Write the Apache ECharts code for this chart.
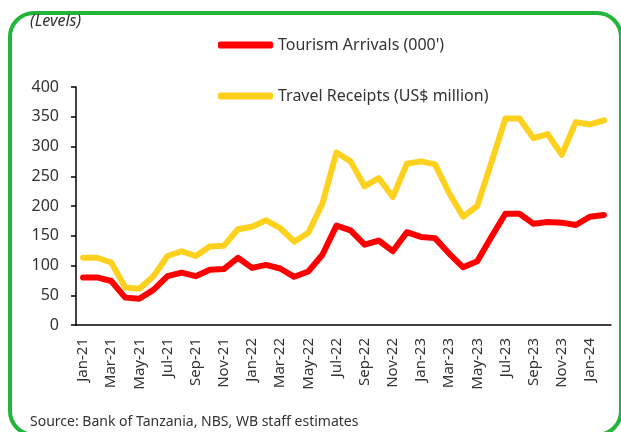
<!DOCTYPE html>
<html>
<head>
<meta charset="utf-8">
<script src="https://cdn.jsdelivr.net/npm/echarts@6/dist/echarts.min.js"></script>
<style>
  html, body { margin: 0; padding: 0; background: #fff; overflow: hidden; }
  #chart { position: absolute; left: 0; top: 0; width: 621px; height: 432px; }
  #frame {
    position: absolute; left: 8px; top: 11px; width: 607px; height: 418px;
    border: 4px solid #22b43b; border-radius: 26px; pointer-events: none;
  }
</style>
</head>
<body>
<div id="frame"></div>
<div id="chart"></div>
<script>
// monthly, Jan-21 .. Feb-24
var months = [
  "Jan-21","Feb-21","Mar-21","Apr-21","May-21","Jun-21","Jul-21","Aug-21","Sep-21","Oct-21","Nov-21","Dec-21",
  "Jan-22","Feb-22","Mar-22","Apr-22","May-22","Jun-22","Jul-22","Aug-22","Sep-22","Oct-22","Nov-22","Dec-22",
  "Jan-23","Feb-23","Mar-23","Apr-23","May-23","Jun-23","Jul-23","Aug-23","Sep-23","Oct-23","Nov-23","Dec-23",
  "Jan-24","Feb-24"
];
var arrivals = [80, 80, 74, 46, 44, 59, 82, 88, 82, 93, 94, 113,
  96, 101, 95, 81, 90, 118, 167, 159, 135, 142, 124, 156,
  148, 146, 120, 97, 107, 148, 187, 187, 170, 173, 172, 168,
  182, 185];
var receipts = [113, 113, 105, 63, 61, 82, 116, 124, 116, 132, 133, 161,
  165, 176, 163, 140, 155, 204, 290, 275, 233, 247, 215, 271,
  275, 270, 222, 182, 200, 273, 347, 347, 314, 321, 286, 341,
  337, 344];
var yTicks = [0, 50, 100, 150, 200, 250, 300, 350, 400];

var txt = "#333333";
var font = "Noto Sans";

var myChart = echarts.init(document.getElementById("chart"));
var option = {
  animation: false,
  textStyle: { fontFamily: font },
  grid: { left: 76, right: 10, top: 87, bottom: 107 },
  graphic: [
    { type: "text", left: 30, top: 13,
      style: { text: "(Levels)", fontSize: 16, fontStyle: "italic", fontFamily: font, fill: txt } },
    { type: "text", left: 30, top: 415,
      style: { text: "Source: Bank of Tanzania, NBS, WB staff estimates", fontSize: 14, fontFamily: font, fill: txt } }
  ],
  legend: {
    orient: "vertical",
    left: 218,
    top: 36,
    padding: 0,
    itemWidth: 55,
    itemHeight: 7,
    itemGap: 33,
    icon: "roundRect",
    textStyle: { fontSize: 16, lineHeight: 18, color: txt, fontFamily: font },
    data: ["Tourism Arrivals (000')", "Travel Receipts (US$ million)"]
  },
  xAxis: {
    type: "category",
    data: months,
    boundaryGap: true,
    axisLine: { lineStyle: { color: "#000", width: 1.5 } },
    axisTick: { interval: 1, length: 5, lineStyle: { color: "#000", width: 1.5 } },
    axisLabel: { interval: 1, rotate: 90, margin: 13, fontSize: 15, color: txt }
  },
  yAxis: {
    type: "value",
    min: yTicks[0],
    max: yTicks[yTicks.length - 1],
    interval: 50,
    splitLine: { show: false },
    axisLine: { show: true, lineStyle: { color: "#000", width: 1.5 } },
    axisTick: { show: true, length: 5, lineStyle: { color: "#000", width: 1.5 } },
    axisLabel: { margin: 17, fontSize: 16, color: txt }
  },
  series: [
    {
      name: "Tourism Arrivals (000')",
      type: "line",
      data: arrivals,
      symbol: "none",
      color: "#ff0000",
      lineStyle: { color: "#ff0000", width: 6, cap: "round", join: "round" }
    },
    {
      name: "Travel Receipts (US$ million)",
      type: "line",
      data: receipts,
      symbol: "none",
      color: "#ffd11f",
      lineStyle: { color: "#ffd11f", width: 6, cap: "round", join: "round" }
    }
  ]
};
myChart.setOption(option, true);
</script>
</body>
</html>
